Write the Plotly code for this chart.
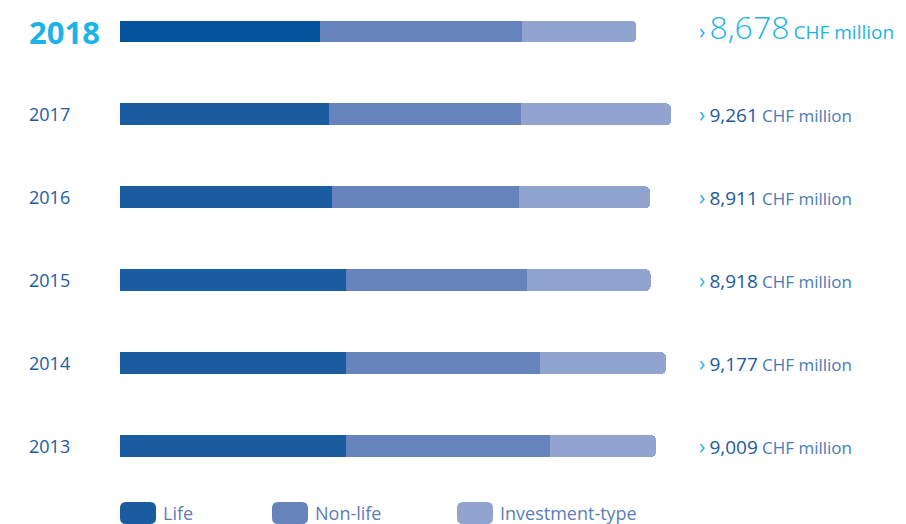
import plotly.graph_objects as go

# ---- data (CHF million) ----
years = ["2018", "2017", "2016", "2015", "2014", "2013"]
life = [3354, 3519, 3570, 3795, 3801, 3797]
non_life = [3409, 3218, 3137, 3049, 3265, 3438]
investment_type = [1915, 2524, 2204, 2074, 2111, 1774]
totals = [8678, 9261, 8911, 8918, 9177, 9009]
total_labels = ["8,678", "9,261", "8,911", "8,918", "9,177", "9,009"]
series_names = ["Life", "Non-life", "Investment-type"]

# ---- styles ----
C_LIFE = "#1B5CA0"
C_LIFE_HL = "#03529C"
C_NONLIFE = "#6783BB"
C_INV = "#90A4CF"
C_CYAN = "#1AB4E8"
C_DARK = "#1D5A9C"
C_MID = "#4B7BB6"
C_LEG = "#5B7EB7"
FONT = "Open Sans"

W, H = 906, 524
ML, MR, MT, MB = 120, 0, 0, 44
PW = W - ML - MR
PH = H - MT - MB
SCALE = 0.0595  # px per CHF million
xmax = PW / SCALE

order = list(reversed(years))  # bottom -> top

fig = go.Figure()
life_colors = [C_LIFE_HL if y == years[0] else C_LIFE for y in years]
fig.add_trace(go.Bar(y=years, x=life, orientation="h", name=series_names[0],
                     marker=dict(color=life_colors, line=dict(width=0))))
fig.add_trace(go.Bar(y=years, x=non_life, orientation="h", name=series_names[1],
                     marker=dict(color=C_NONLIFE, line=dict(width=0))))
fig.add_trace(go.Bar(y=years, x=investment_type, orientation="h", name=series_names[2],
                     marker=dict(color=C_INV, line=dict(width=0))))

annotations = []
for i, y in enumerate(years):
    hl = (i == 0)
    yi = order.index(y)
    # year label
    annotations.append(dict(
        x=(27 - ML) / PW, xref="paper", y=yi, yref="y", xanchor="left", yanchor="middle",
        text=f"<b>{y}</b>" if hl else y, showarrow=False,
        font=dict(family=FONT, size=31 if hl else 18, color=C_CYAN if hl else C_LIFE)))
    # value label
    if hl:
        txt = (f"<span style='font-size:21px'>›</span>&nbsp;"
               f"<span style='font-size:32px;font-weight:300'>{total_labels[i]}</span> "
               f"<span style='font-size:19px'>CHF million</span>")
        fcol = C_CYAN
        ys = 5
    else:
        txt = (f"<span style='color:{C_CYAN};font-size:21px'>›</span>&nbsp;"
               f"<span style='color:{C_DARK};font-size:19px'>{total_labels[i]}</span> "
               f"<span style='color:{C_MID};font-size:17px'>CHF million</span>")
        fcol = C_DARK
        ys = 0
    annotations.append(dict(
        x=(697 - ML) / PW, xref="paper", y=yi, yref="y", xanchor="left", yanchor="middle",
        yshift=ys, text=txt, showarrow=False, font=dict(family=FONT, size=16, color=fcol)))

# legend (manual, rounded swatches)
def rrect(w, h, r):
    x0, x1, y0, y1 = -w / 2, w / 2, -h / 2, h / 2
    return (f"M{x0+r},{y0} L{x1-r},{y0} Q{x1},{y0} {x1},{y0+r} L{x1},{y1-r} "
            f"Q{x1},{y1} {x1-r},{y1} L{x0+r},{y1} Q{x0},{y1} {x0},{y1-r} "
            f"L{x0},{y0+r} Q{x0},{y0} {x0+r},{y0} Z")

shapes = []
leg_x = [120, 272, 457]
leg_colors = [C_LIFE, C_NONLIFE, C_INV]
leg_cy = 513
for name, lx, col in zip(series_names, leg_x, leg_colors):
    shapes.append(dict(type="path", xref="paper", yref="paper",
                       xsizemode="pixel", ysizemode="pixel",
                       xanchor=(lx + 18 - ML) / PW, yanchor=(PH - (leg_cy - MT)) / PH,
                       path=rrect(36, 22, 6), fillcolor=col, line=dict(width=0)))
    annotations.append(dict(x=(lx + 41 - ML) / PW, xref="paper",
                            y=(PH - (leg_cy - MT)) / PH, yref="paper",
                            xanchor="left", yanchor="middle", showarrow=False,
                            text=name, font=dict(family=FONT, size=18, color=C_LEG)))

fig.update_layout(
    barmode="stack",
    barcornerradius=5,
    bargap=0.735,
    width=W, height=H,
    margin=dict(l=ML, r=MR, t=MT, b=MB),
    paper_bgcolor="white", plot_bgcolor="white",
    showlegend=False,
    xaxis=dict(range=[0, xmax], visible=False, fixedrange=True),
    yaxis=dict(type="category", categoryorder="array", categoryarray=order,
               range=[-0.41, 5.38], visible=False, fixedrange=True),
    annotations=annotations,
    shapes=shapes,
)

fig.write_html("out.html", config={"displayModeBar": False})
